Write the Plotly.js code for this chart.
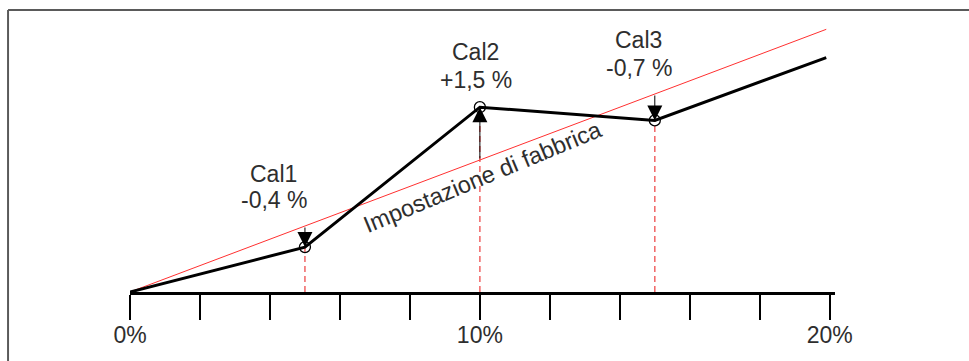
<!DOCTYPE html>
<html>
<head>
<meta charset="utf-8">
<script src="https://cdn.plot.ly/plotly-3.0.1.min.js"></script>
<style>
  html, body { margin: 0; padding: 0; background: #fff; }
  #chart { width: 969px; height: 361px; }
</style>
</head>
<body>
<div id="chart"></div>
<script>
// ---- data ----
var xCurve = [0, 5, 10, 15, 19.9];            // % setpoint
var yCurve = [0, 3.4, 14.0, 13.0, 17.75];     // measured curve (schematic)
var factoryX = [0, 19.9];
var factoryY = [0, 19.9];
var calNames = ["Cal1", "Cal2", "Cal3"];
var calX = [5, 10, 15];
var calMeasured = [3.4, 14.0, 13.0];
var calFactory = [5, 10, 15];
var calDeviation = ["-0,4 %", "+1,5 %", "-0,7 %"];
var tickVals = [0, 2, 4, 6, 8, 10, 12, 14, 16, 18, 20];
var tickText = ["0%", "", "", "", "", "10%", "", "", "", "", "20%"];
var factoryLabel = "Impostazione di fabbrica";

// ---- layout helpers ----
var FONT = "Liberation Sans, Arial, sans-serif";
var TXT = "#2e2e2e";
var L = 130, PXX = 35, XMAX = 20.15, T = 10, B = 69, W = 969, H = 361;
var plotW = XMAX * PXX, plotH = H - T - B, PXY = 13.2, YMAX = plotH / PXY;
function px2x(p) { return (p - L) / PXX; }
function py2y(p) { return (H - B - p) / PXY; }

var traces = [];
// dashed verticals
calX.forEach(function (cx, i) {
  traces.push({
    x: [cx, cx], y: [0, calMeasured[i]], mode: "lines", hoverinfo: "skip",
    line: { color: "#f06464", width: 1.5, dash: "6px,4px" }, showlegend: false
  });
});
// factory line
traces.push({
  x: factoryX, y: factoryY, mode: "lines", hoverinfo: "skip",
  line: { color: "#ff3030", width: 1 }, showlegend: false
});
// measured curve
traces.push({
  x: xCurve, y: yCurve, mode: "lines", hoverinfo: "skip",
  line: { color: "#000", width: 3 }, showlegend: false
});
// calibration markers
traces.push({
  x: calX, y: calMeasured, mode: "markers", hoverinfo: "skip",
  marker: { symbol: "circle-open", size: 11, color: "#000", line: { width: 1.3, color: "#000" } },
  showlegend: false
});

var annotations = [];
// arrows from factory line to measured point
calX.forEach(function (cx, i) {
  annotations.push({
    x: cx, y: calMeasured[i], ax: cx, ay: calFactory[i],
    xref: "x", yref: "y", axref: "x", ayref: "y",
    text: "", showarrow: true, arrowhead: 2, arrowsize: 3, arrowwidth: 1,
    arrowcolor: "#000", standoff: 0, startstandoff: 0
  });
});
// Cal labels (positions in px)
var labelPos = [[274, 174, 200], [476, 52, 80], [639, 40, 68]];
calNames.forEach(function (n, i) {
  var p = labelPos[i];
  annotations.push({
    x: px2x(p[0]), y: py2y(p[1]), xref: "x", yref: "y", text: n, showarrow: false,
    xanchor: "center", yanchor: "middle", font: { family: FONT, size: 23, color: TXT }
  });
  annotations.push({
    x: px2x(p[0]), y: py2y(p[2]), xref: "x", yref: "y", text: calDeviation[i], showarrow: false,
    xanchor: "center", yanchor: "middle", font: { family: FONT, size: 23, color: TXT }
  });
});
// factory label
annotations.push({
  x: px2x(483), y: py2y(177), xref: "x", yref: "y", text: factoryLabel, showarrow: false,
  textangle: -22.5, xanchor: "center", yanchor: "middle",
  font: { family: FONT, size: 23.5, color: TXT }
});

var frameColor = "#5a5a5a";
var shapes = [
  { type: "line", xref: "paper", yref: "paper",
    x0: (8 - L) / plotW, x1: (W + 5 - L) / plotW, y0: (H - B - 10) / plotH, y1: (H - B - 10) / plotH,
    line: { color: frameColor, width: 2 } },
  { type: "line", xref: "paper", yref: "paper",
    x0: (8 - L) / plotW, x1: (8 - L) / plotW, y0: (H - B - 10) / plotH, y1: (H - B - H - 5) / plotH,
    line: { color: frameColor, width: 2 } }
];

var layout = {
  width: W, height: H,
  margin: { l: L, r: W - L - plotW, t: T, b: B, pad: 0 },
  paper_bgcolor: "#fff", plot_bgcolor: "rgba(0,0,0,0)",
  showlegend: false,
  xaxis: {
    range: [0, XMAX], showgrid: false, zeroline: false,
    showline: true, linecolor: "#000", linewidth: 2.5,
    ticks: "outside", ticklen: 25, tickwidth: 2.5, tickcolor: "#000",
    ticklabelstandoff: -4,
    tickmode: "array", tickvals: tickVals, ticktext: tickText,
    tickfont: { family: FONT, size: 23, color: TXT }, fixedrange: true
  },
  yaxis: {
    range: [0, YMAX], visible: false, showgrid: false, zeroline: false, fixedrange: true
  },
  annotations: annotations,
  shapes: shapes
};

Plotly.newPlot("chart", traces, layout, { staticPlot: true, displayModeBar: false });
</script>
</body>
</html>
